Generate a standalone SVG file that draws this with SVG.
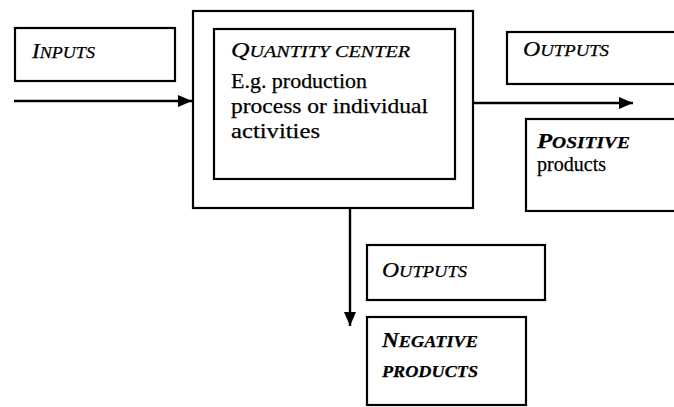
<svg xmlns="http://www.w3.org/2000/svg" width="674" height="407" viewBox="0 0 674 407">
<style>
.box{fill:#fff;stroke:#000;stroke-width:2.2}
.t{font-family:"Liberation Serif","Times New Roman",serif;fill:#000;stroke:#000;stroke-width:0.25}
.i{font-style:italic}
.b{font-weight:bold}
.big{font-size:21px}
.sm{font-size:16.5px}
.con{stroke:#000;stroke-width:2.4;fill:none}
</style>
<defs>
<marker id="ah" markerWidth="14" markerHeight="12" refX="14" refY="6" orient="auto" markerUnits="userSpaceOnUse">
<path d="M0,0 L14,6 L0,12 Z" fill="#000"/>
</marker>
</defs>
<rect width="674" height="407" fill="#fff"/>
<g id="inputs">
<rect class="box" x="15" y="28" width="160" height="53"/>
<text class="t i" x="32" y="58" textLength="63" lengthAdjust="spacingAndGlyphs"><tspan class="big">I</tspan><tspan class="sm">NPUTS</tspan></text>
</g>
<g id="quantity-center">
<rect class="box" x="193" y="11" width="280" height="197"/>
<rect class="box" x="214" y="29" width="241" height="150"/>
<text class="t i" x="231" y="57" textLength="179" lengthAdjust="spacingAndGlyphs"><tspan class="big">Q</tspan><tspan class="sm">UANTITY CENTER</tspan></text>
<text class="t big" x="231" y="88" textLength="136" lengthAdjust="spacingAndGlyphs">E.g. production</text>
<text class="t big" x="231" y="113" textLength="197" lengthAdjust="spacingAndGlyphs">process or individual</text>
<text class="t big" x="231" y="138" textLength="89" lengthAdjust="spacingAndGlyphs">activities</text>
</g>
<g id="outputs-right">
<rect class="box" x="507" y="32" width="170" height="52"/>
<text class="t i" x="523" y="56" textLength="86" lengthAdjust="spacingAndGlyphs"><tspan class="big">O</tspan><tspan class="sm">UTPUTS</tspan></text>
</g>
<g id="positive-products">
<rect class="box" x="526" y="119" width="151" height="92"/>
<text class="t i b" x="537" y="148" textLength="93" lengthAdjust="spacingAndGlyphs"><tspan class="big">P</tspan><tspan class="sm">OSITIVE</tspan></text>
<text class="t big" x="537" y="171" textLength="69" lengthAdjust="spacingAndGlyphs">products</text>
</g>
<g id="outputs-bottom">
<rect class="box" x="367" y="245" width="178" height="55"/>
<text class="t i" x="382" y="277" textLength="85" lengthAdjust="spacingAndGlyphs"><tspan class="big">O</tspan><tspan class="sm">UTPUTS</tspan></text>
</g>
<g id="negative-products">
<rect class="box" x="367" y="317" width="159" height="88"/>
<text class="t i b" x="382" y="347" textLength="96" lengthAdjust="spacingAndGlyphs"><tspan class="big">N</tspan><tspan class="sm">EGATIVE</tspan></text>
<text class="t i b sm" x="382" y="377" textLength="96" lengthAdjust="spacingAndGlyphs">PRODUCTS</text>
</g>
<g id="connectors">
<line class="con" x1="14" y1="101" x2="192" y2="101" marker-end="url(#ah)"/>
<line class="con" x1="473" y1="103" x2="633" y2="103" marker-end="url(#ah)"/>
<line class="con" x1="350" y1="208" x2="350" y2="326" marker-end="url(#ah)"/>
</g>
</svg>
